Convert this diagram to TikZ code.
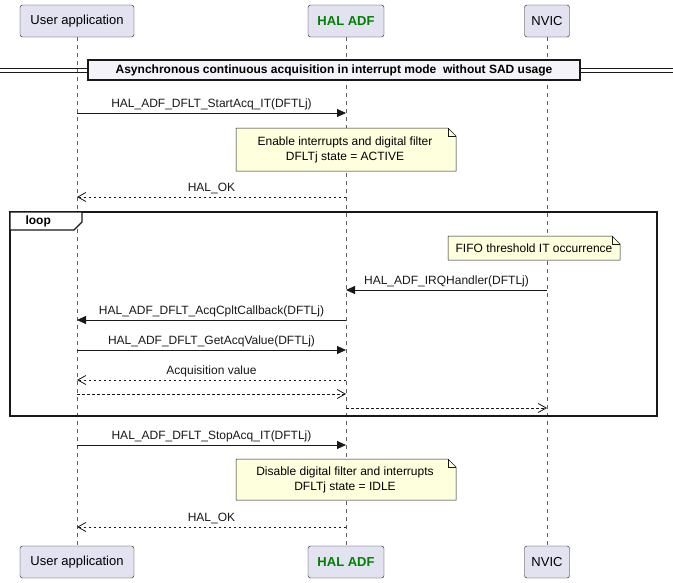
\documentclass[tikz,border=0pt]{standalone}
\usepackage{fontspec}
\setmainfont{Liberation Sans}
\usetikzlibrary{arrows.meta}
\definecolor{pfill}{HTML}{E2E2F0}
\definecolor{pline}{HTML}{181818}
\definecolor{nfill}{HTML}{FEFFDD}
\definecolor{hgreen}{HTML}{008000}
\begin{document}
\begin{tikzpicture}[x=1pt,y=-1pt,
  part/.style={draw=pline,fill=pfill,rounded corners=2.5pt,minimum height=32pt,inner xsep=6pt,font=\fontsize{13}{15}\selectfont},
  msg/.style={-{Triangle[length=9pt,width=8pt]},line width=0.8pt,pline},
  ret/.style={-{Straight Barb[length=8pt,width=9pt]},line width=0.8pt,pline,dash pattern=on 2.5pt off 2.5pt},
  lab/.style={font=\fontsize{12}{14}\selectfont,inner sep=1pt},
  life/.style={pline!70,dash pattern=on 4pt off 4pt,line width=0.5pt},
  notet/.style={font=\fontsize{12}{15}\selectfont,align=center}]
\useasboundingbox (0,0) rectangle (673,582);
% lifelines
\coordinate (ut) at (77,37); \coordinate (ub) at (77,546);
\coordinate (ht) at (346,37); \coordinate (hb) at (346,546);
\coordinate (nt) at (547,37); \coordinate (nb) at (547,546);
\draw[life] (ut)--(ub); \draw[life] (ht)--(hb); \draw[life] (nt)--(nb);
% participants
\foreach \y/\s in {21/t,562/b}{
\node[part,minimum width=114pt] (u\s) at (77,\y) {User application};
\node[part,minimum width=76pt,font=\fontsize{13}{15}\selectfont\bfseries,text=hgreen] (h\s) at (346,\y) {HAL ADF};
\node[part,minimum width=45pt] (n\s) at (547,\y) {NVIC};
}
% divider
\draw[pline,line width=0.8pt] (0,68)--(673,68) (0,72)--(673,72);
\node[draw=pline,line width=1.2pt,fill=pfill!40!white,minimum width=492pt,minimum height=20pt,font=\fontsize{12}{14}\selectfont\bfseries] (div) at (334,70) {Asynchronous continuous acquisition in interrupt mode\ \ without SAD usage};
% helper coordinates
\foreach \n/\y in {a/113,b/197,c/290,d/320,e/350,f/380,g/394,h/408,i/445,j/527}{
 \coordinate (U\n) at (77,\y); \coordinate (H\n) at (346,\y); \coordinate (N\n) at (547,\y);}
\draw[msg] (Ua)--(Ha) node[lab,midway,above=2pt] {HAL\_ADF\_DFLT\_StartAcq\_IT(DFTLj)};
% note 1
\draw[pline,fill=nfill,line width=0.5pt] (236,128)--(448,128)--(456,136)--(456,171)--(236,171)--cycle;
\draw[pline,line width=0.5pt] (448,128)--(448,136)--(456,136);
\node[notet] (n1) at (345,149.5) {Enable interrupts and digital filter\\DFLTj state = ACTIVE};
\draw[ret] (Hb)--(Ub) node[lab,midway,above=2pt] {HAL\_OK};
% loop
\draw[pline,line width=1.2pt] (10,212) rectangle (657,416);
\draw[pline,line width=1.2pt,fill=white] (10,212)--(82,212)--(82,222)--(74,230)--(10,230)--cycle;
\node[font=\fontsize{12}{14}\selectfont\bfseries,anchor=west] (lp) at (22,221) {loop};
% note 2
\draw[pline,fill=nfill,line width=0.5pt] (448,236)--(612,236)--(620,244)--(620,260)--(448,260)--cycle;
\draw[pline,line width=0.5pt] (612,236)--(612,244)--(620,244);
\node[notet] (n2) at (534,248) {FIFO threshold IT occurrence};
\draw[msg] (Nc)--(Hc) node[lab,midway,above=2pt] {HAL\_ADF\_IRQHandler(DFTLj)};
\draw[msg] (Hd)--(Ud) node[lab,midway,above=2pt] {HAL\_ADF\_DFLT\_AcqCpltCallback(DFTLj)};
\draw[msg] (Ue)--(He) node[lab,midway,above=2pt] {HAL\_ADF\_DFLT\_GetAcqValue(DFTLj)};
\draw[ret] (Hf)--(Uf) node[lab,midway,above=2pt] {Acquisition value};
\draw[ret] (Ug)--(Hg);
\draw[ret] (Hh)--(Nh);
\draw[msg] (Ui)--(Hi) node[lab,midway,above=2pt] {HAL\_ADF\_DFLT\_StopAcq\_IT(DFTLj)};
% note 3
\draw[pline,fill=nfill,line width=0.5pt] (236,459)--(448,459)--(456,467)--(456,500)--(236,500)--cycle;
\draw[pline,line width=0.5pt] (448,459)--(448,467)--(456,467);
\node[notet] (n3) at (345,479.5) {Disable digital filter and interrupts\\DFLTj state = IDLE};
\draw[ret] (Hj)--(Uj) node[lab,midway,above=2pt] {HAL\_OK};
\end{tikzpicture}
\end{document}
